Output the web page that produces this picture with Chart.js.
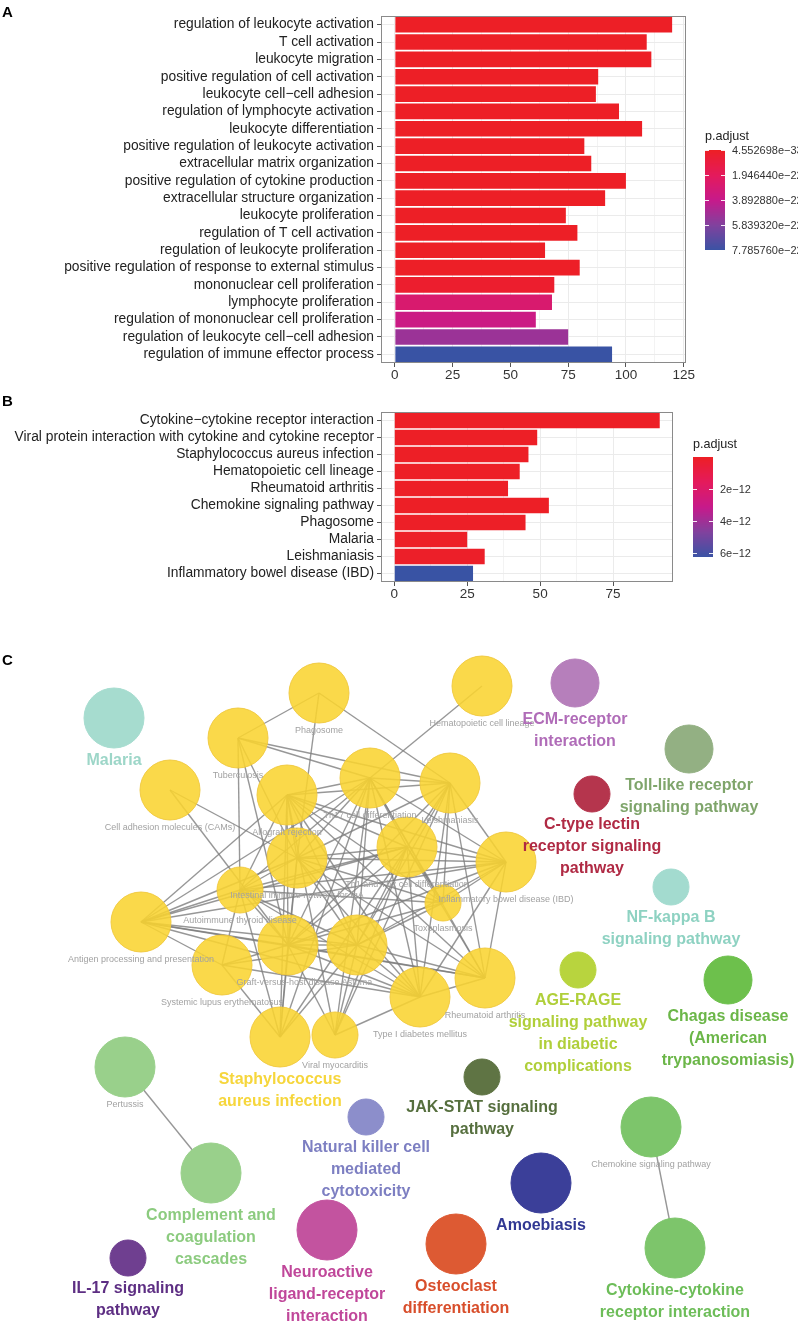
<!DOCTYPE html>
<html><head><meta charset="utf-8">
<script src="https://cdn.jsdelivr.net/npm/chart.js@4.4.1/dist/chart.umd.min.js"></script>
<style>
html,body{margin:0;padding:0;background:#fff;width:798px;height:1324px;overflow:hidden;}
canvas{position:absolute;left:0;}
.tag{position:absolute;left:2px;font:bold 15px 'Liberation Sans',Arial,sans-serif;color:#000;line-height:17px;}
</style></head><body>
<canvas id="cA" width="798" height="385" style="top:0;width:798px;height:385px"></canvas>
<canvas id="cB" width="798" height="225" style="top:385px;width:798px;height:225px"></canvas>
<canvas id="cC" width="798" height="714" style="top:610px;width:798px;height:714px"></canvas>
<div class="tag" style="top:3px">A</div>
<div class="tag" style="top:392px">B</div>
<div class="tag" style="top:651px">C</div>
<script>
// ---------- Panel A: GO terms ----------
const goTerms = [
 'regulation of leukocyte activation','T cell activation','leukocyte migration',
 'positive regulation of cell activation','leukocyte cell\u2212cell adhesion',
 'regulation of lymphocyte activation','leukocyte differentiation',
 'positive regulation of leukocyte activation','extracellular matrix organization',
 'positive regulation of cytokine production','extracellular structure organization',
 'leukocyte proliferation','regulation of T cell activation',
 'regulation of leukocyte proliferation','positive regulation of response to external stimulus',
 'mononuclear cell proliferation','lymphocyte proliferation',
 'regulation of mononuclear cell proliferation','regulation of leukocyte cell\u2212cell adhesion',
 'regulation of immune effector process'];
const goCounts = [120,109,111,88,87,97,107,82,85,100,91,74,79,65,80,69,68,61,75,94];
const goPadj = [4.552698e-33,1.1e-31,3.5e-30,2.2e-29,5.1e-29,8.7e-28,1.9e-27,4.4e-27,1.2e-26,3.3e-26,
 7.9e-26,1.6e-25,4.2e-25,9.6e-25,2.1e-24,3.0e-23,2.7e-22,3.6e-22,5.1e-22,7.785760e-22];
const goTicks = [0,25,50,75,100,125];
const goLegendTicks = [4.552698e-33,1.946440e-22,3.892880e-22,5.839320e-22,7.785760e-22];
const goLegendLabels = ['4.552698e\u221233','1.946440e\u221222','3.892880e\u221222','5.839320e\u221222','7.785760e\u221222'];

// ---------- Panel B: KEGG pathways ----------
const keggTerms = ['Cytokine\u2212cytokine receptor interaction',
 'Viral protein interaction with cytokine and cytokine receptor',
 'Staphylococcus aureus infection','Hematopoietic cell lineage','Rheumatoid arthritis',
 'Chemokine signaling pathway','Phagosome','Malaria','Leishmaniasis','Inflammatory bowel disease (IBD)'];
const keggCounts = [91,49,46,43,39,53,45,25,31,27];
const keggPadj = [1.2e-20,3.5e-16,8e-16,2e-15,5e-15,6e-15,1.5e-14,4e-14,9e-14,6.26e-12];
const keggTicks = [0,25,50,75];
const keggLegendTicks = [2e-12,4e-12,6e-12];
const keggLegendLabels = ['2e\u221212','4e\u221212','6e\u221212'];

// ---------- Panel C: network ----------
const netNames = ['Phagosome','Hematopoietic cell lineage','Tuberculosis','Cell adhesion molecules (CAMs)',
 'Allograft rejection','Th17 cell differentiation','Leishmaniasis','Intestinal immune network for IgA',
 'Th1 and Th2 cell differentiation','Inflammatory bowel disease (IBD)','Toxoplasmosis',
 'Autoimmune thyroid disease','Antigen processing and presentation','Graft-versus-host disease','Asthma',
 'Systemic lupus erythematosus','Rheumatoid arthritis','Type I diabetes mellitus',
 'Staphylococcus aureus infection','Viral myocarditis',
 'Malaria','ECM-receptor interaction','Toll-like receptor signaling pathway',
 'C-type lectin receptor signaling pathway','NF-kappa B signaling pathway',
 'AGE-RAGE signaling pathway in diabetic complications','Chagas disease (American trypanosomiasis)',
 'JAK-STAT signaling pathway','Chemokine signaling pathway','Cytokine-cytokine receptor interaction',
 'Amoebiasis','Osteoclast differentiation','Neuroactive ligand-receptor interaction',
 'Natural killer cell mediated cytotoxicity','IL-17 signaling pathway',
 'Complement and coagulation cascades','Pertussis'];
const netX = [319,482,238,170,287,370,450,297,407,506,443,240,141,288,357,222,485,420,280,335,
 114,575,689,592,671,578,728,482,651,675,541,456,327,366,128,211,125];
const netY = [693,686,738,790,795,778,783,858,847,862,903,890,922,945,945,965,978,997,1037,1035,
 718,683,749,794,887,970,980,1077,1127,1248,1183,1244,1230,1117,1258,1173,1067];
const netSize = [30,30,30,30,30,30,30,30,30,30,18,23,30,30,30,30,30,30,30,23,
 30,24,24,18,18,18,24,18,30,30,30,30,30,18,18,30,30];
const netGroup = [0,0,0,0,0,0,0,0,0,0,0,0,0,0,0,0,0,0,0,0,
 1,2,3,4,5,6,7,8,9,9,10,11,12,13,14,15,15];
const netEdges = [[0,2],[0,6],[0,7],[1,5],[2,6],[2,5],[2,11],[2,7],[2,13],[3,13],[3,7],
 [12,4],[12,5],[12,7],[12,8],[12,13],[12,14],[12,15],[12,11],[12,17],[12,16],[12,9],
 [9,4],[9,5],[9,6],[9,8],[9,7],[9,10],[9,14],[9,16],[9,17],[9,13],[9,11],
 [16,6],[16,8],[16,14],[16,13],[16,17],[16,4],[16,5],[16,7],
 [17,4],[17,5],[17,6],[17,7],[17,8],[17,13],[17,14],[17,11],[17,15],[17,19],
 [18,4],[18,7],[18,8],[18,11],[18,13],[18,14],[18,15],[18,5],
 [19,4],[19,5],[19,8],[19,13],[19,14],[19,6],
 [4,5],[4,6],[4,7],[4,8],[4,11],[4,13],[4,14],[4,10],
 [5,6],[5,7],[5,8],[5,11],[5,13],[5,14],[5,10],
 [6,8],[6,7],[6,13],[6,14],[6,10],
 [7,8],[7,11],[7,13],[7,14],[7,10],
 [8,11],[8,13],[8,14],[8,10],
 [10,13],[10,14],[10,11],
 [11,13],[11,14],[11,15],
 [13,14],[13,15],[14,15],
 [36,35],[28,29]];
const groupLeader = [18,20,21,22,23,24,25,26,27,29,30,31,32,33,34,35];
const groupLabels = [
 ['Staphylococcus','aureus infection'],['Malaria'],['ECM-receptor','interaction'],
 ['Toll-like receptor','signaling pathway'],['C-type lectin','receptor signaling','pathway'],
 ['NF-kappa B','signaling pathway'],['AGE-RAGE','signaling pathway','in diabetic','complications'],
 ['Chagas disease','(American','trypanosomiasis)'],['JAK-STAT signaling','pathway'],
 ['Cytokine-cytokine','receptor interaction'],['Amoebiasis'],['Osteoclast','differentiation'],
 ['Neuroactive','ligand-receptor','interaction'],['Natural killer cell','mediated','cytotoxicity'],
 ['IL-17 signaling','pathway'],['Complement and','coagulation','cascades']];

// ---------- styles ----------
const FONT = "'Liberation Sans', Arial, sans-serif";
Chart.defaults.font.family = FONT;
const groupFill = ['rgba(249,212,49,0.88)','#a6dccf','#b67fbb','#93b083','#b5354d','#a3dbcf','#b8d43e',
 '#6dc04c','#5f7444','#7dc56b','#3b3f99','#dd5a33','#c3539f','#8c8ecb','#6f3f90','#99d08b'];
const groupText = ['#f6d63c','#9dd6c8','#b06cb8','#7fa56b','#b02a44','#8ed2c2','#b0cf3a',
 '#6bb648','#566f3e','#6dbd59','#313893','#d84e2b','#c0479a','#7d7fc2','#5d2e83','#8ccb7f'];
const gradStops = [[0,[237,31,38]],[0.25,[228,26,92]],[0.5,[198,26,139]],[0.75,[128,66,158]],[1,[57,83,164]]];
function gradColor(t){
  t = Math.max(0, Math.min(1, t));
  for (let i=1;i<gradStops.length;i++){
    if (t <= gradStops[i][0]){
      const [t0,c0]=gradStops[i-1], [t1,c1]=gradStops[i];
      const f=(t-t0)/(t1-t0);
      return 'rgb('+c0.map((v,k)=>Math.round(v+(c1[k]-v)*f)).join(',')+')';
    }
  }
  return 'rgb('+gradStops[gradStops.length-1][1].join(',')+')';
}
function makeColors(p){ const mn=Math.min(...p), mx=Math.max(...p); return p.map(v=>gradColor((v-mn)/(mx-mn))); }

const panelBorder = { id:'panelBorder', afterDatasetsDraw(chart){
  const a=chart.chartArea, c=chart.ctx; c.save(); c.strokeStyle='#8a8a8a'; c.lineWidth=1;
  c.strokeRect(a.left+0.5,a.top+0.5,a.right-a.left-1,a.bottom-a.top-1); c.restore(); } };

function legendPlugin(padj, ticks, labels, dx, titleY, barTop, barBottom){
  return { id:'legend'+dx, afterDraw(chart){
    const c=chart.ctx, x0=chart.chartArea.right+dx, mn=Math.min(...padj), mx=Math.max(...padj);
    c.save();
    c.fillStyle='#222'; c.font='12.6px '+FONT; c.textBaseline='middle'; c.textAlign='left';
    c.fillText('p.adjust', x0, titleY);
    for (let y=barTop; y<barBottom; y++){ c.fillStyle=gradColor((y-barTop)/(barBottom-barTop)); c.fillRect(x0,y,20,1); }
    c.strokeStyle='rgba(255,255,255,0.9)'; c.lineWidth=1;
    c.font='11px '+FONT; c.fillStyle='#333';
    ticks.forEach((v,i)=>{
      const y=Math.round(barTop+(v-mn)/(mx-mn)*(barBottom-barTop))+0.5;
      c.beginPath(); c.moveTo(x0,y); c.lineTo(x0+4,y); c.moveTo(x0+16,y); c.lineTo(x0+20,y); c.stroke();
      c.fillText(labels[i], x0+27, y);
    });
    c.restore(); } };
}

function minorGrid(t){ const g=[]; for(let i=0;i<t.length;i++){ g.push(t[i]); if(i<t.length-1) g.push((t[i]+t[i+1])/2);} return g; }

function barConfig(terms, counts, padj, ticks, xmin, xmax, pad, xh, legend){
  const grid = minorGrid(ticks);
  return {
    type:'bar',
    data:{labels:terms, datasets:[{data:counts, backgroundColor:makeColors(padj), borderWidth:0,
      barPercentage:0.9, categoryPercentage:1}]},
    options:{
      indexAxis:'y', responsive:false, animation:false,
      layout:{padding:pad},
      plugins:{legend:{display:false}, tooltip:{enabled:false}},
      scales:{
        x:{type:'linear', min:xmin, max:xmax,
          afterBuildTicks:s=>{ s.ticks = grid.map(v=>({value:v})); },
          afterFit:s=>{ s.height = xh; },
          border:{display:false},
          grid:{color:'#ebebeb', lineWidth:c=> ticks.includes(c.tick.value)?1:0.6,
                tickColor:c=> ticks.includes(c.tick.value)?'#555':'rgba(0,0,0,0)', tickLength:4, drawTicks:true},
          ticks:{autoSkip:false, maxRotation:0, padding:0, color:'#333', font:{size:13.5},
                 callback:v=> ticks.includes(v)? String(v):''}},
        y:{afterFit:s=>{ s.width = 381; },
          border:{display:false},
          grid:{offset:false, color:'#ebebeb', tickColor:'#555', tickLength:4},
          ticks:{autoSkip:false, padding:3, color:'#222', font:{size:13.8}}}
      }
    },
    plugins:[panelBorder, legend]
  };
}

new Chart(document.getElementById('cA'), barConfig(goTerms, goCounts, goPadj, goTicks, -6, 126,
  {top:16,right:112,left:0,bottom:0}, 22,
  legendPlugin(goPadj, goLegendTicks, goLegendLabels, 19, 137, 150, 250)));

new Chart(document.getElementById('cB'), barConfig(keggTerms, keggCounts, keggPadj, keggTicks, -4.55, 95.55,
  {top:27,right:125,left:0,bottom:0}, 28,
  legendPlugin(keggPadj, keggLegendTicks, keggLegendLabels, 20, 60, 72, 172)));

// ---------- network ----------
const netPlugin = { id:'net',
  beforeDatasetsDraw(chart){
    const xs=chart.scales.x, ys=chart.scales.y, c=chart.ctx;
    c.save(); c.strokeStyle='rgba(125,125,125,0.8)'; c.lineWidth=1.4;
    netEdges.forEach(([a,b])=>{
      c.beginPath();
      c.moveTo(xs.getPixelForValue(netX[a]), ys.getPixelForValue(netY[a]));
      c.lineTo(xs.getPixelForValue(netX[b]), ys.getPixelForValue(netY[b]));
      c.stroke();
    });
    c.restore();
  },
  afterDatasetsDraw(chart){
    const xs=chart.scales.x, ys=chart.scales.y, c=chart.ctx;
    c.save(); c.textAlign='center'; c.textBaseline='middle';
    c.font='9px '+FONT; c.fillStyle='#a2a2a2';
    netNames.forEach((n,i)=>{
      if (groupLeader.includes(i)) return;
      c.fillText(n, xs.getPixelForValue(netX[i]), ys.getPixelForValue(netY[i])+netSize[i]+8);
    });
    c.font='bold 16px '+FONT;
    groupLeader.forEach((ni,g)=>{
      c.fillStyle=groupText[g];
      const x=xs.getPixelForValue(netX[ni]), y0=ys.getPixelForValue(netY[ni])+netSize[ni]+13;
      groupLabels[g].forEach((l,k)=>c.fillText(l, x, y0+22*k));
    });
    c.restore();
  } };

new Chart(document.getElementById('cC'), {
  type:'bubble',
  data:{datasets:[{data:netX.map((x,i)=>({x:x, y:netY[i], r:netSize[i]})),
    backgroundColor:netGroup.map(g=>groupFill[g]),
    borderColor:netGroup.map(g=>g===0?'rgba(240,200,60,0.9)':groupFill[g]),
    borderWidth:1, clip:false}]},
  options:{responsive:false, animation:false,
    layout:{padding:0, autoPadding:false},
    plugins:{legend:{display:false}, tooltip:{enabled:false}},
    scales:{x:{type:'linear', display:false, min:0, max:798},
            y:{type:'linear', display:false, min:610, max:1324, reverse:true}}},
  plugins:[netPlugin]
});
</script>
</body></html>
